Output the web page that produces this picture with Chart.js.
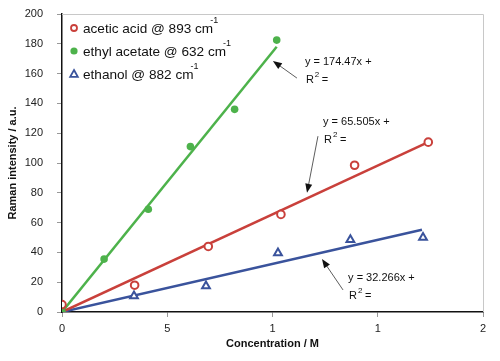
<!DOCTYPE html>
<html><head><meta charset="utf-8">
<script src="https://cdn.jsdelivr.net/npm/chart.js@4/dist/chart.umd.min.js"></script>
<style>html,body{margin:0;padding:0;background:#fff}#wrap{width:500px;height:361px;position:relative}</style>
</head><body><div id="wrap"><canvas id="c"></canvas></div>
<script>
// ---- data ----
const seriesNames = ["acetic acid @ 893 cm", "ethyl acetate @ 632 cm", "ethanol @ 882 cm"];
const aceticX = [0, 0.345, 0.695, 1.04, 1.39, 1.74];
const aceticY = [5, 18, 44, 65.5, 98.5, 114];
const ethylX = [0, 0.2, 0.41, 0.61, 0.82, 1.02];
const ethylY = [0, 35.5, 69, 111, 136, 182.5];
const ethanolX = [0, 0.342, 0.684, 1.026, 1.37, 1.715];
const ethanolY = [0, 10.7, 17.4, 39.6, 48.5, 50];
// trend line end points
const aceticTrendX = [0, 1.74], aceticTrendY = [0, 114];
const ethylTrendX = [0, 1.02], ethylTrendY = [0, 178];
const ethanolTrendX = [0, 1.71], ethanolTrendY = [0, 55.2];
const xTickLabels = ["0", "5", "1", "1", "2"];
const yTicks = [0, 200, 20];
const eqLabels = ["y = 174.47x +", "y = 65.505x +", "y = 32.266x +"];
// annotation anchors in data units: [textX, textY, tailX, tailY, headX, headY]
const eqAnchors = [
  [1.154, 167.8, 1.116, 157, 1.002, 168.5],
  [1.240, 127.5, 1.216, 118, 1.164, 80],
  [1.359, 22.8, 1.335, 14.8, 1.235, 35.6]
];

const RED = '#C9403B', GREEN = '#4DB24B', BLUE = '#3A539C';
const FONT = "'Liberation Sans', Arial, sans-serif";

function pts(xs, ys) { return xs.map((x, i) => ({x: x, y: ys[i]})); }

const markerDefs = [
  {data: pts(aceticX, aceticY), color: RED, style: 'circle', r: 3.8, fill: '#fff', bw: 2, lr: 3},
  {data: pts(ethylX, ethylY), color: GREEN, style: 'circle', r: 3.8, fill: GREEN, bw: 0, lr: 3.6},
  {data: pts(ethanolX, ethanolY), color: BLUE, style: 'triangle', r: 4.5, fill: '#fff', bw: 2, lr: 4}
];

const datasets = [];
markerDefs.forEach((m, i) => {
  datasets.push({
    label: seriesNames[i], data: m.data, showLine: false, order: 0,
    pointStyle: m.style, pointRadius: m.r, pointHoverRadius: m.r,
    pointBackgroundColor: m.fill, pointBorderColor: m.color, pointBorderWidth: m.bw
  });
});
[[aceticTrendX, aceticTrendY, RED], [ethylTrendX, ethylTrendY, GREEN], [ethanolTrendX, ethanolTrendY, BLUE]].forEach(t => {
  datasets.push({
    label: 'trend', data: pts(t[0], t[1]), showLine: true, order: 1,
    borderColor: t[2], borderWidth: 2.5, pointRadius: 0, pointHoverRadius: 0, fill: false
  });
});

const decor = {
  id: 'decor',
  beforeDatasetsDraw(chart) {
    const {ctx, chartArea: a} = chart;
    ctx.save();
    ctx.strokeStyle = '#C8C8C8'; ctx.lineWidth = 1;
    ctx.beginPath();
    ctx.moveTo(a.left, a.top + 0.5); ctx.lineTo(a.right + 0.5, a.top + 0.5); ctx.lineTo(a.right + 0.5, a.bottom);
    ctx.stroke();
    ctx.restore();
  },
  afterDatasetsDraw(chart) {
    const {ctx, chartArea: a, scales: {x, y}} = chart;
    ctx.save();
    // legend
    ctx.textBaseline = 'middle'; ctx.textAlign = 'left';
    const ly = [14, 37, 60];
    markerDefs.forEach((m, i) => {
      const mx = a.left + 12, my = a.top + ly[i];
      ctx.beginPath();
      const r = m.lr;
      if (m.style === 'circle') {
        ctx.arc(mx, my, r, 0, Math.PI * 2);
      } else {
        ctx.moveTo(mx, my - r); ctx.lineTo(mx + r * 0.95, my + r * 0.7); ctx.lineTo(mx - r * 0.95, my + r * 0.7); ctx.closePath();
      }
      ctx.fillStyle = m.fill; ctx.fill();
      if (m.bw) { ctx.lineWidth = 1.8; ctx.strokeStyle = m.color; ctx.stroke(); }
      ctx.fillStyle = '#111';
      ctx.font = '13.6px ' + FONT;
      const tx = a.left + 21;
      ctx.fillText(seriesNames[i], tx, my + 1);
      const w = ctx.measureText(seriesNames[i]).width;
      ctx.font = '9px ' + FONT;
      ctx.fillText('-1', tx + w - 3, my - 7);
    });
    // equations + arrows
    eqAnchors.forEach((an, i) => {
      const tx = x.getPixelForValue(an[0]), ty = y.getPixelForValue(an[1]);
      ctx.fillStyle = '#111';
      ctx.font = '11px ' + FONT;
      ctx.fillText(eqLabels[i], tx, ty);
      ctx.fillText('R', tx + 1, ty + 18);
      const rw = ctx.measureText('R').width;
      ctx.font = '8px ' + FONT;
      ctx.fillText('2', tx + 1 + rw + 1, ty + 13);
      ctx.font = '11px ' + FONT;
      ctx.fillText('=', tx + rw + 9, ty + 18);
      const x1 = x.getPixelForValue(an[2]), y1 = y.getPixelForValue(an[3]);
      const x2 = x.getPixelForValue(an[4]), y2 = y.getPixelForValue(an[5]);
      const ang = Math.atan2(y2 - y1, x2 - x1);
      const hl = 9, hw = 3.5;
      ctx.strokeStyle = '#333'; ctx.lineWidth = 0.8;
      ctx.beginPath(); ctx.moveTo(x1, y1);
      ctx.lineTo(x2 - Math.cos(ang) * hl * 0.8, y2 - Math.sin(ang) * hl * 0.8); ctx.stroke();
      ctx.fillStyle = '#111';
      ctx.beginPath();
      ctx.moveTo(x2, y2);
      ctx.lineTo(x2 - Math.cos(ang) * hl + Math.sin(ang) * hw, y2 - Math.sin(ang) * hl - Math.cos(ang) * hw);
      ctx.lineTo(x2 - Math.cos(ang) * hl - Math.sin(ang) * hw, y2 - Math.sin(ang) * hl + Math.cos(ang) * hw);
      ctx.closePath(); ctx.fill();
    });
    ctx.restore();
  }
};

new Chart(document.getElementById('c'), {
  type: 'scatter',
  data: {datasets: datasets},
  options: {
    responsive: true, maintainAspectRatio: false, animation: false,
    layout: {padding: {left: 0, right: 17, top: 14, bottom: 0}},
    plugins: {legend: {display: false}, tooltip: {enabled: false}},
    scales: {
      x: {
        type: 'linear', min: 0, max: 2,
        afterFit(s) { s.height = 49; },
        ticks: {stepSize: 0.5, padding: 5, color: '#222', font: {family: FONT, size: 11},
          callback: (v, i) => xTickLabels[i]},
        grid: {drawOnChartArea: false, drawTicks: true, tickLength: 5, color: '#999'},
        border: {color: '#111', width: 1.5},
        title: {display: true, text: 'Concentration / M', color: '#111',
          font: {family: FONT, size: 11, weight: 'bold'}, padding: {top: 0, bottom: 10}}
      },
      y: {
        type: 'linear', min: yTicks[0], max: yTicks[1],
        afterFit(s) { s.width = 62; s.paddingTop = 7; s.paddingBottom = 7; },
        ticks: {stepSize: yTicks[2], padding: 14, color: '#222', font: {family: FONT, size: 11}},
        grid: {drawOnChartArea: false, drawTicks: true, tickLength: 5, color: '#999'},
        border: {color: '#111', width: 1.5},
        title: {display: true, text: 'Raman intensity / a.u.', color: '#111',
          font: {family: FONT, size: 11, weight: 'bold'}, padding: {top: 6, bottom: 0}}
      }
    }
  },
  plugins: [decor]
});
</script>
</body></html>
